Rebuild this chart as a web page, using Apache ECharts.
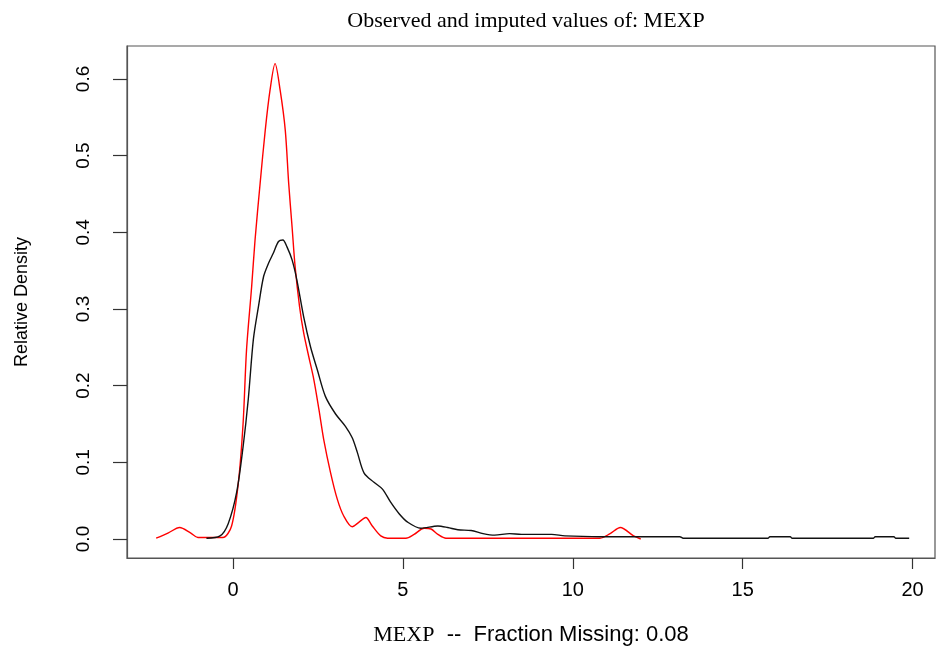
<!DOCTYPE html>
<html>
<head>
<meta charset="utf-8">
<script src="https://cdn.jsdelivr.net/npm/echarts@6/dist/echarts.min.js"></script>
<style>html,body{margin:0;padding:0;background:#fff}#c{width:938px;height:651px}</style>
</head>
<body>
<div id="c"></div>
<script>
// Observed (black) density curve
var obsX = [-0.78, -0.38, -0.14, 0.11, 0.30, 0.45, 0.60, 0.75, 0.90, 1.05, 1.19, 1.34, 1.47, 1.59, 1.74, 1.88, 2.08, 2.28, 2.48, 2.72, 3.02, 3.31, 3.51, 3.66, 3.86, 4.15, 4.40, 4.64, 4.89, 5.14, 5.53, 6.03, 6.32, 6.62, 7.01, 7.36, 7.70, 8.14, 8.49, 9.38, 9.77, 10.86, 13.15, 13.25, 15.75, 15.80, 16.40, 16.45, 18.85, 18.90, 19.45, 19.50, 19.90];
var obsY = [0.001, 0.004, 0.020, 0.061, 0.121, 0.182, 0.260, 0.303, 0.342, 0.360, 0.373, 0.388, 0.390, 0.381, 0.364, 0.338, 0.290, 0.251, 0.221, 0.186, 0.163, 0.147, 0.132, 0.113, 0.086, 0.074, 0.065, 0.048, 0.033, 0.022, 0.014, 0.017, 0.015, 0.012, 0.011, 0.007, 0.005, 0.007, 0.006, 0.006, 0.004, 0.003, 0.003, 0.001, 0.001, 0.003, 0.003, 0.001, 0.001, 0.003, 0.003, 0.001, 0.001];
// Imputed (red) density curve
var impX = [-2.26, -1.90, -1.57, -1.25, -1.03, -0.30, -0.04, 0.16, 0.30, 0.40, 0.55, 0.65, 0.80, 0.95, 1.09, 1.24, 1.39, 1.54, 1.64, 1.74, 1.83, 1.96, 2.08, 2.23, 2.38, 2.53, 2.67, 2.87, 3.07, 3.26, 3.51, 3.71, 3.91, 4.10, 4.35, 4.55, 5.09, 5.33, 5.63, 5.83, 6.03, 6.27, 10.80, 11.10, 11.40, 11.79, 12.00];
var impY = [0.001, 0.008, 0.015, 0.008, 0.002, 0.002, 0.017, 0.074, 0.152, 0.247, 0.329, 0.390, 0.464, 0.533, 0.585, 0.620, 0.585, 0.533, 0.464, 0.407, 0.355, 0.303, 0.269, 0.238, 0.208, 0.169, 0.130, 0.087, 0.052, 0.030, 0.016, 0.022, 0.028, 0.017, 0.004, 0.001, 0.001, 0.006, 0.014, 0.013, 0.006, 0.001, 0.001, 0.007, 0.015, 0.004, 0.000];
var xTicks = [0, 5, 10, 15, 20];
var yTicks = [0.0, 0.1, 0.2, 0.3, 0.4, 0.5, 0.6];

function zip(a, b) { return a.map(function (v, i) { return [v, b[i]]; }); }

var chart = echarts.init(document.getElementById('c'), null, { renderer: 'canvas' });
chart.setOption({
  animation: false,
  backgroundColor: '#fff',
  title: {
    text: 'Observed and imputed values of: MEXP',
    left: 521, top: 5, textAlign: 'center',
    textStyle: { fontFamily: 'Liberation Serif', fontSize: 22, fontWeight: 'normal', color: '#000' }
  },
  grid: { left: 127, right: 3, top: 46, bottom: 93, show: true, borderColor: '#555', borderWidth: 1.2, backgroundColor: 'transparent' },
  xAxis: {
    type: 'value', min: -3.118, max: 20.66,
    name: '{s|MEXP}{a|  --  Fraction Missing: 0.08}',
    nameLocation: 'middle', nameGap: 66,
    nameTextStyle: {
      rich: {
        s: { fontFamily: 'Liberation Serif', fontSize: 22, color: '#000' },
        a: { fontFamily: 'Liberation Sans', fontSize: 22, color: '#000' }
      }
    },
    axisLine: { show: true, onZero: false, lineStyle: { color: '#555', width: 1.2 } },
    splitLine: { show: false },
    axisTick: { show: true, length: 11, inside: false, customValues: xTicks, lineStyle: { color: '#333', width: 1.2 } },
    axisLabel: { customValues: xTicks, margin: 22, fontFamily: 'Liberation Sans', fontSize: 20, color: '#000', formatter: function (v) { return String(v); } }
  },
  yAxis: {
    type: 'value', min: -0.0248, max: 0.643,
    name: 'Relative Density',
    nameLocation: 'middle', nameGap: 96, nameRotate: 90,
    nameTextStyle: { fontFamily: 'Liberation Sans', fontSize: 18, color: '#000' },
    axisLine: { show: true, onZero: false, lineStyle: { color: '#555', width: 1.2 } },
    splitLine: { show: false },
    axisTick: { show: true, length: 14, inside: false, customValues: yTicks, lineStyle: { color: '#333', width: 1.2 } },
    axisLabel: { customValues: yTicks, rotate: 90, margin: 34, fontFamily: 'Liberation Sans', fontSize: 19, color: '#000', formatter: function (v) { return v.toFixed(1); } }
  },
  series: [
    { type: 'line', data: zip(obsX, obsY), showSymbol: false, smooth: 0.3, lineStyle: { color: '#111', width: 1.4 }, z: 3 },
    { type: 'line', data: zip(impX, impY), showSymbol: false, smooth: 0.3, lineStyle: { color: '#ff0000', width: 1.4 }, z: 2 }
  ]
});
</script>
</body>
</html>
